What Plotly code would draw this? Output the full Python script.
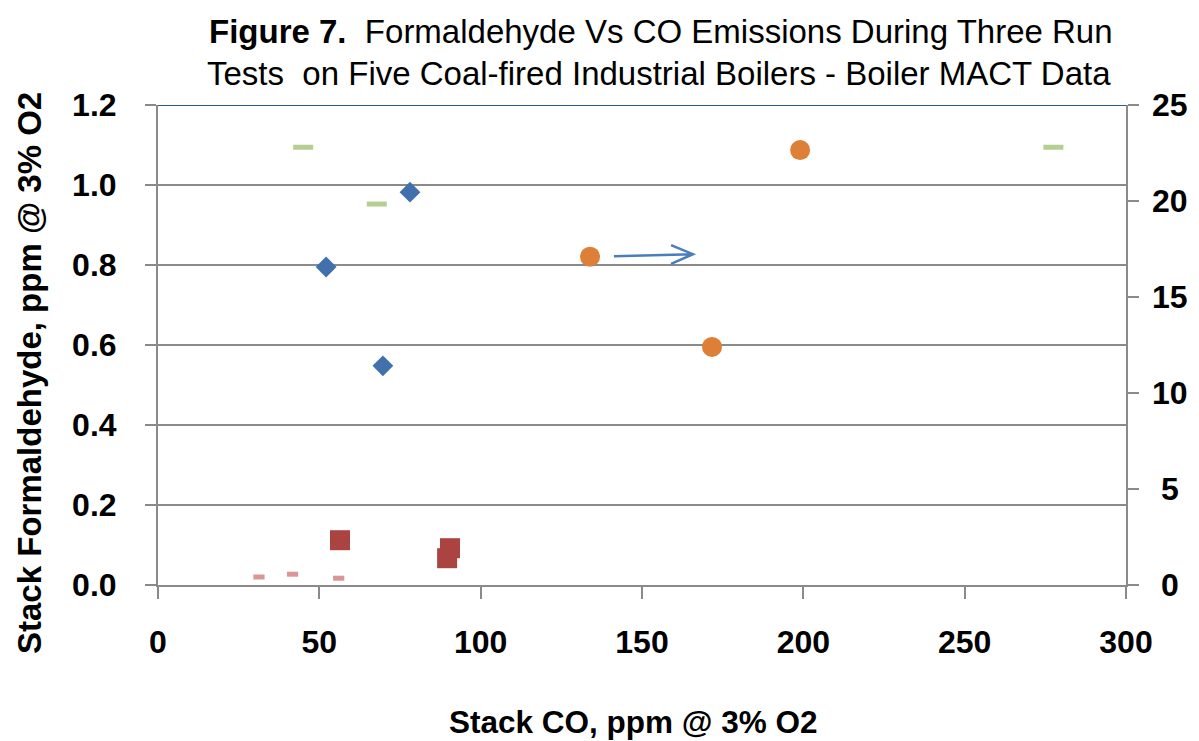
import plotly.graph_objects as go

# Stack CO (ppm @ 3% O2) and formaldehyde readings for the five boilers
co_boiler1 = [52.1, 69.7, 78.1]
hcho_boiler1 = [0.795, 0.548, 0.982]          # left axis

co_boiler2 = [133.9, 171.7, 199.0]
hcho_boiler2 = [17.1, 12.4, 22.65]            # right axis

co_boiler3 = [45.0, 67.8, 277.5]
hcho_boiler3 = [22.8, 19.84, 22.8]            # right axis

co_boiler4 = [56.4, 89.6, 90.5]
hcho_boiler4 = [0.112, 0.067, 0.092]          # left axis

co_boiler5 = [31.3, 41.7, 56.0]
hcho_boiler5 = [0.020, 0.027, 0.017]          # left axis

x_ticks = [0, 50, 100, 150, 200, 250, 300]
left_ticks = [0.0, 0.2, 0.4, 0.6, 0.8, 1.0, 1.2]
right_ticks = [0, 5, 10, 15, 20, 25]

AXIS_GRAY = "#8a8a8a"
SANS = "Liberation Sans, Arial, sans-serif"
TICK_FONT = dict(family=SANS, size=32, color="#000000", weight="bold")

# plot-area geometry in pixels, used to place the free-standing text
PLOT_L, PLOT_R, PLOT_T, PLOT_B = 158, 1126, 105, 585
PW, PH = PLOT_R - PLOT_L, PLOT_B - PLOT_T


def px_x(px):
    return (px - PLOT_L) / PW


def px_y(py):
    return (PLOT_B - py) / PH


fig = go.Figure()

fig.add_trace(go.Scatter(
    x=co_boiler1, y=hcho_boiler1, mode="markers", yaxis="y",
    marker=dict(symbol="diamond", size=16, color="#4170ac"),
))
fig.add_trace(go.Scatter(
    x=co_boiler2, y=hcho_boiler2, mode="markers", yaxis="y2",
    marker=dict(symbol="circle", size=20, color="#de7f37"),
))
fig.add_trace(go.Scatter(
    x=co_boiler3, y=hcho_boiler3, mode="markers", yaxis="y2",
    marker=dict(symbol="line-ew", size=14.3, color="#b5cf93",
                line=dict(color="#b5cf93", width=5)),
))
fig.add_trace(go.Scatter(
    x=co_boiler4, y=hcho_boiler4, mode="markers", yaxis="y",
    marker=dict(symbol="square", size=20, color="#ab4441"),
))
fig.add_trace(go.Scatter(
    x=co_boiler5, y=hcho_boiler5, mode="markers", yaxis="y",
    marker=dict(symbol="line-ew", size=8, color="#d99694",
                line=dict(color="#d99694", width=5)),
))

# Arrow pointing toward the right-hand axis
fig.add_shape(
    type="path", xref="x", yref="y2",
    path="M 141.3,17.12 L 165.8,17.23 M 159.0,17.70 L 165.8,17.23 L 159.0,16.72",
    line=dict(color="#4a7ebb", width=2.5),
)

# Dark blue border along the top of the plot area
fig.add_shape(
    type="line", xref="paper", yref="y", x0=0, x1=1, y0=1.2, y1=1.2,
    line=dict(color="#2f5a8f", width=2), layer="above",
)

# Right axis labels, centred in their column
for v in right_ticks:
    fig.add_annotation(
        x=px_x(1170), xref="paper", y=v, yref="y2", text=str(v), showarrow=False,
        xanchor="center", yanchor="middle", font=TICK_FONT,
    )

TITLE_FONT = dict(family=SANS, size=33, color="#000000")
fig.add_annotation(
    x=px_x(661), xref="paper", y=px_y(31), yref="paper", xanchor="center", yanchor="middle",
    showarrow=False,
    text="<b>Figure 7.</b>\u00a0 Formaldehyde Vs CO Emissions During Three Run",
    font=TITLE_FONT,
)
fig.add_annotation(
    x=px_x(659), xref="paper", y=px_y(73), yref="paper", xanchor="center", yanchor="middle",
    showarrow=False,
    text="Tests\u00a0 on Five Coal-fired Industrial Boilers - Boiler MACT Data",
    font=TITLE_FONT,
)

# Axis titles
fig.add_annotation(
    x=px_x(633), xref="paper", y=px_y(722), yref="paper",
    xanchor="center", yanchor="middle", showarrow=False,
    text="<b>Stack CO, ppm @ 3% O2</b>",
    font=dict(family=SANS, size=31.5, color="#000000"),
)
fig.add_annotation(
    x=px_x(29), xref="paper", y=px_y(373), yref="paper",
    xanchor="center", yanchor="middle", showarrow=False, textangle=-90,
    text="<b>Stack Formaldehyde, ppm @ 3% O2</b>",
    font=dict(family=SANS, size=33, color="#000000"),
)

fig.update_layout(
    width=1199, height=741,
    margin=dict(l=PLOT_L, r=1199 - PLOT_R, t=PLOT_T, b=741 - PLOT_B),
    paper_bgcolor="#ffffff", plot_bgcolor="#ffffff",
    showlegend=False,
    xaxis=dict(
        range=[0, 300], tickvals=x_ticks, showgrid=False, zeroline=False,
        showline=True, linecolor=AXIS_GRAY, linewidth=2,
        ticks="outside", ticklen=12, tickwidth=2, tickcolor=AXIS_GRAY,
        tickfont=TICK_FONT, ticklabelstandoff=16,
    ),
    yaxis=dict(
        range=[0, 1.2], tickvals=left_ticks, tickformat=".1f",
        showgrid=True, gridcolor=AXIS_GRAY, gridwidth=2, zeroline=False,
        showline=True, linecolor=AXIS_GRAY, linewidth=2,
        ticks="outside", ticklen=11, tickwidth=2, tickcolor=AXIS_GRAY,
        tickfont=TICK_FONT, ticklabelstandoff=22,
    ),
    yaxis2=dict(
        range=[0, 25], tickvals=right_ticks, overlaying="y", side="right",
        showgrid=False, zeroline=False, showticklabels=False,
        showline=True, linecolor=AXIS_GRAY, linewidth=2,
        ticks="outside", ticklen=11, tickwidth=2, tickcolor=AXIS_GRAY,
    ),
)

fig.write_html("out.html")
